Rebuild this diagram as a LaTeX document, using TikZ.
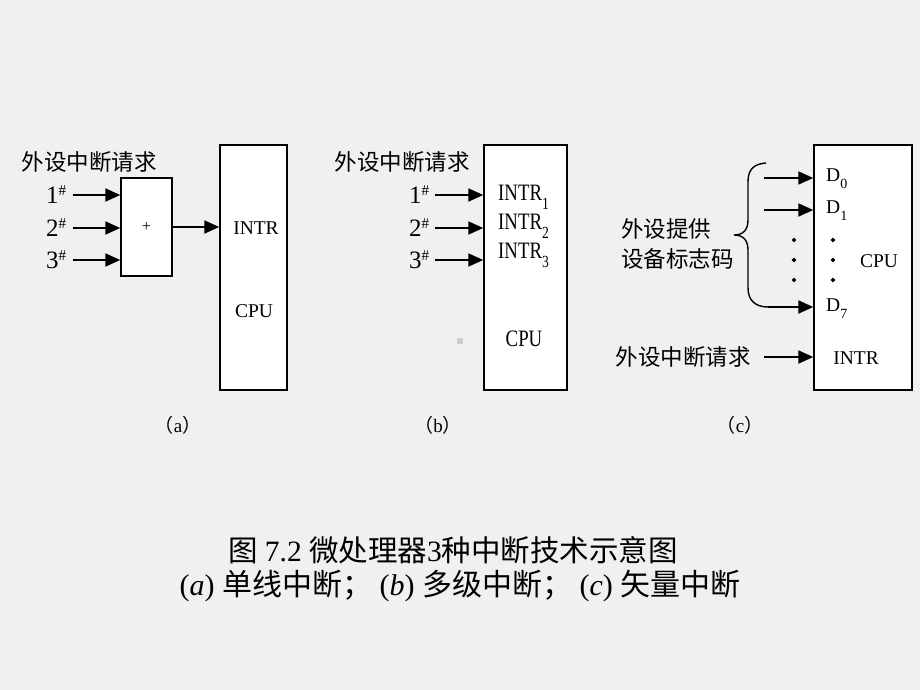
\documentclass[tikz,border=0pt]{standalone}
\usepackage{fontspec}
\setmainfont{Liberation Serif}
\newfontfamily\cjk{Noto Sans CJK SC}
\usetikzlibrary{arrows.meta,shapes.geometric}
\newcommand{\nar}[1]{\scalebox{0.8}[1]{#1}}
\newcommand{\sub}[1]{\raisebox{-7pt}{\fontsize{14}{14}\selectfont #1}}
\newcommand{\subb}[1]{\raisebox{-9pt}{\fontsize{17}{17}\selectfont #1}}
\newcommand{\sh}[1]{#1\raisebox{8pt}{\fontsize{15}{15}\selectfont\#}}
\begin{document}
\begin{tikzpicture}[x=1pt,y=-1pt,
  box/.style={draw,line width=1.4pt,fill=white,inner sep=0pt},
  arr/.style={-{Triangle[length=15pt,width=13pt]},line width=1.8pt},
  lab/.style={font=\fontsize{19.5}{22}\selectfont,inner sep=0pt},
  tall/.style={font=\fontsize{23.5}{26}\selectfont,inner sep=0pt},
  num/.style={font=\fontsize{25}{27}\selectfont,inner sep=0pt},
  zh/.style={font=\cjk\fontsize{22.5}{25}\selectfont,inner sep=0pt},
  subcap/.style={font=\fontsize{19}{20}\selectfont,inner sep=0pt},
  pdot/.style={diamond,fill=black,inner sep=0pt,minimum size=5pt}]
\fill[fill={rgb,255:red,240;green,240;blue,240}] (0,0) rectangle (920,690);
\useasboundingbox (0,0) rectangle (920,690);

% ---------- (a)
\node[box,minimum width=51pt,minimum height=98pt] (plus) at (146.5,227) {\fontsize{16}{16}\selectfont +};
\node[box,minimum width=67pt,minimum height=245pt] (cpuA) at (253.5,267.5) {};
\node[zh] (reqA) at (89,162) {外设中断请求};
\node[num] (a1) at (56,195) {\sh{1}};
\node[num] (a2) at (56,228) {\sh{2}};
\node[num] (a3) at (56,260) {\sh{3}};
\coordinate (sa1) at (73,195);
\coordinate (sa2) at (73,228);
\coordinate (sa3) at (73,260);
\draw[arr] (sa1) -- (plus.west |- sa1);
\draw[arr] (sa2) -- (plus.west |- sa2);
\draw[arr] (sa3) -- (plus.west |- sa3);
\draw[arr] (plus.east) -- (cpuA.west |- plus.east);
\node[lab] (intrA) at (256,228) {INTR};
\node[lab] (cpuAt) at (254,311) {CPU};
\node[subcap] (capA) at (178,425) {{\cjk （}a{\cjk ）}};

% ---------- (b)
\node[box,minimum width=83pt,minimum height=245pt] (cpuB) at (525.5,267.5) {};
\node[zh] (reqB) at (402,162) {外设中断请求};
\node[num] (b1) at (419,195) {\sh{1}};
\node[num] (b2) at (419,228) {\sh{2}};
\node[num] (b3) at (419,260) {\sh{3}};
\coordinate (sb1) at (435,195);
\coordinate (sb2) at (435,228);
\coordinate (sb3) at (435,260);
\draw[arr] (sb1) -- (cpuB.west |- sb1);
\draw[arr] (sb2) -- (cpuB.west |- sb2);
\draw[arr] (sb3) -- (cpuB.west |- sb3);
\node[tall,anchor=west] (ib1) at (498,197) {\nar{INTR\subb{1}}};
\node[tall,anchor=west] (ib2) at (498,226) {\nar{INTR\subb{2}}};
\node[tall,anchor=west] (ib3) at (498,255) {\nar{INTR\subb{3}}};
\node[tall] (cpuBt) at (524,339) {\nar{CPU}};
\fill[fill={rgb,255:red,205;green,205;blue,205}] (457,338) rectangle (463,344);
\node[subcap] (capB) at (438,425) {{\cjk （}b{\cjk ）}};

% ---------- (c)
\node[box,minimum width=98pt,minimum height=245pt] (cpuC) at (863,267.5) {};
\coordinate (s0) at (764,178);
\coordinate (s1) at (764,210);
\coordinate (s7) at (768,307);
\coordinate (si) at (764,357);
\draw[line width=1.4pt] (766,163) .. controls (753,164) and (748,170) .. (748,182)
  -- (748,220) .. controls (748,230) and (743,235) .. (734,235)
  .. controls (743,235) and (748,240) .. (748,250)
  -- (748,288) .. controls (748,300) and (755,307) .. (s7);
\draw[arr] (s0) -- (cpuC.west |- s0);
\draw[arr] (s1) -- (cpuC.west |- s1);
\draw[arr] (s7) -- (cpuC.west |- s7);
\draw[arr] (si) -- (cpuC.west |- si);
\node[lab,anchor=west] (d0) at (826,179) {D\sub{0}};
\node[lab,anchor=west] (d1) at (826,211) {D\sub{1}};
\node[lab,anchor=west] (d7) at (826,309) {D\sub{7}};
\node[pdot] (l1) at (794,240) {};
\node[pdot] (l2) at (794,260) {};
\node[pdot] (l3) at (794,280) {};
\node[pdot] (r1) at (833,240) {};
\node[pdot] (r2) at (833,260) {};
\node[pdot] (r3) at (833,280) {};
\node[lab] (cpuCt) at (879,261) {CPU};
\node[lab] (intrC) at (856,358) {INTR};
\node[zh,anchor=west] (idA) at (621,229) {外设提供};
\node[zh,anchor=west] (idB) at (621,259) {设备标志码};
\node[zh] (reqC) at (683,357) {外设中断请求};
\node[subcap] (capC) at (740,425) {{\cjk （}c{\cjk ）}};

% ---------- title
\node[inner sep=0pt,font=\fontsize{29.5}{32}\selectfont] (t1) at (453,550)
  {{\cjk 图} 7.2 {\cjk 微处理器}3{\cjk 种中断技术示意图}};
\node[inner sep=0pt,font=\fontsize{30}{32}\selectfont] (t2) at (460,586)
  {(\textit{a}) {\cjk 单线中断；} (\textit{b}) {\cjk 多级中断；} (\textit{c}) {\cjk 矢量中断}};
\end{tikzpicture}
\end{document}
